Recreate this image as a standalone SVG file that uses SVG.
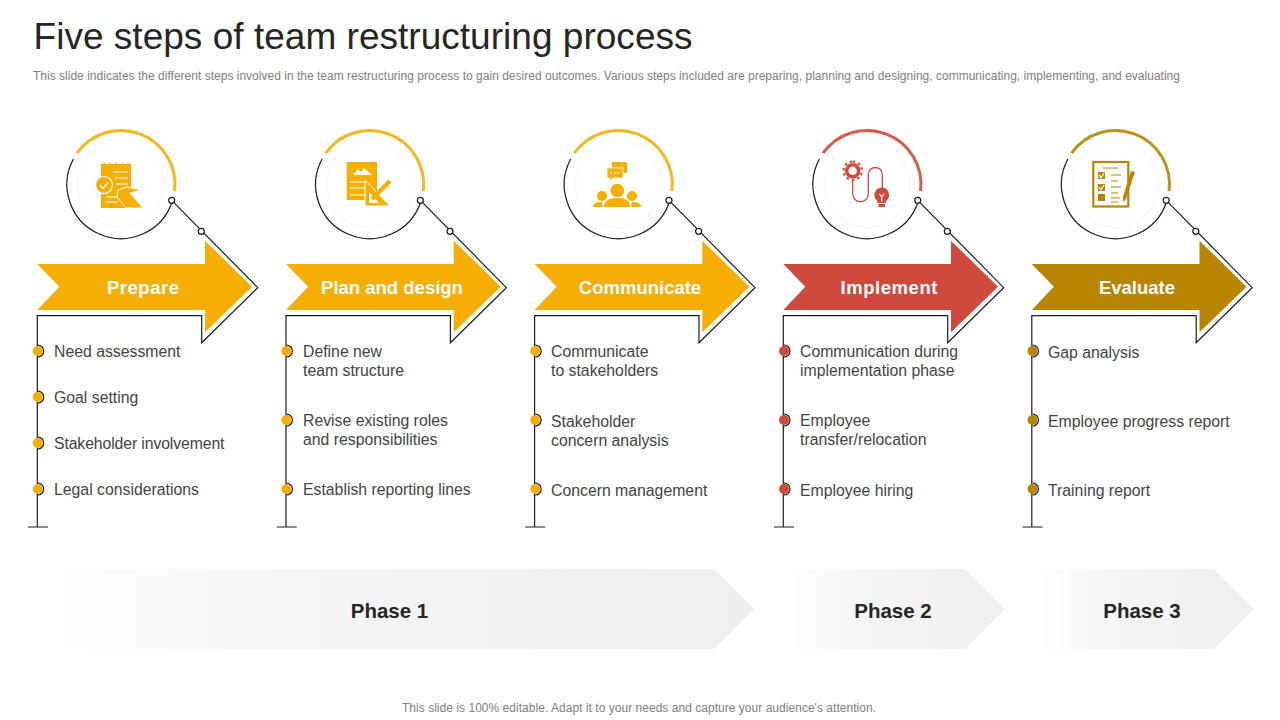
<svg xmlns="http://www.w3.org/2000/svg" width="1280" height="720" viewBox="0 0 1280 720">
<style>
text{font-family:"Liberation Sans",Arial,sans-serif}
.title{font-size:37px;fill:#262626}
.sub{font-size:12px;fill:#808080}
.foot{font-size:12px;fill:#808080}
.head{font-size:18.5px;font-weight:700;fill:#fff;text-anchor:middle}
.item{font-size:15.8px;fill:#444}
.phase{font-size:20.5px;font-weight:700;fill:#262626;text-anchor:middle}
.ln{fill:none;stroke:#1c1c1c;stroke-width:1.2}
.dot{fill:#fff;stroke:#1c1c1c;stroke-width:1.2}
.wl{fill:none;stroke:#fff;stroke-width:1.2}
.c1{color:#f6ae05}.c2{color:#cf4a3c}.c3{color:#b98500}
.fc{fill:currentColor}
.sc{fill:none;stroke:currentColor}
</style>
<defs>
<linearGradient id="g" x1="0" x2="1" y1="0" y2="0"><stop offset="0" stop-color="#fff"/><stop offset=".18" stop-color="#f8f8f8"/><stop offset=".5" stop-color="#f4f4f4"/><stop offset="1" stop-color="#eee"/></linearGradient>
<g id="outline">
<path class="ln" d="M73.400 159A54 54 0 1 0 172 202.200"/>
<path class="ln" d="M171.700 200.300L257.700 287.700L201.700 342.700V315.700H37.300V527M28 527H48"/>
<circle class="dot" cx="171.700" cy="200.300" r="3"/>
<circle class="dot" cx="201.300" cy="231.300" r="3"/>
</g>
<g id="ring">
<circle cx="121" cy="184.500" r="43" fill="none" stroke="#f6f6f6" stroke-width="1.200"/>
<path class="sc" stroke-width="3" stroke-opacity=".9" d="M77 153.200A54 54 0 0 1 174.600 191.100"/>
</g>
<path id="arrow" class="fc" d="M37.300 264H205V240.700L252 286.700L205 332.300V310H37.300L59.300 286.700Z"/>
<g id="b"><path d="M0-6A6 6 0 0 1 0 6" fill="none" stroke="#1c1c1c" stroke-width="1.200"/><circle cx="0" cy="0" r="5" class="fc"/></g>
</defs>

<text class="title" x="33.500" y="49" textLength="659">Five steps of team restructuring process</text>
<text class="sub" x="33" y="80" textLength="1147">This slide indicates the different steps involved in the team restructuring process to gain desired outcomes. Various steps included are preparing, planning and designing, communicating, implementing, and evaluating</text>

<g id="connectors">
<use href="#outline"/>
<use href="#outline" x="248.700"/>
<use href="#outline" x="497.300"/>
<use href="#outline" x="746"/>
<use href="#outline" x="994.500"/>
</g>

<g id="prepare" class="c1">
<use href="#ring"/>
<g>
<rect class="fc" x="101" y="164" width="30" height="44"/>
<path d="M104 162v4M110 162v4M116 162v4M122 162v4M128 162v4" stroke="#f6ae05" stroke-width="1"/>
<path class="wl" d="M113 172H128M115 178H128M116 184H128M106 197H120M106 202H118"/>
<circle class="fc" cx="104" cy="185" r="8.500" stroke="#fff" stroke-width="1.200"/>
<path class="wl" stroke-width="1.600" d="M100 185L103 188.500L108.500 182"/>
<path class="fc" d="M118 190L127 187L142 190L130 193L143 208H126L117 197Z" stroke="#fff" stroke-width="1"/>
</g>
<use href="#arrow"/>
<text class="head" x="143" y="293.500" textLength="72">Prepare</text>
<use href="#b" x="37.700" y="351"/><use href="#b" x="37.700" y="397"/><use href="#b" x="37.700" y="443"/><use href="#b" x="37.700" y="489"/>
<text class="item" x="54" y="357">Need assessment</text>
<text class="item" x="54" y="403">Goal setting</text>
<text class="item" x="54" y="449" textLength="170.500">Stakeholder involvement</text>
<text class="item" x="54" y="495">Legal considerations</text>
</g>

<g id="plan" class="c1">
<use href="#ring" x="248.700"/>
<g>
<path class="fc" d="M346.700 162H377V200H346.700Z"/>
<path fill="#fff" d="M353 175L358 169L361 172L364 168L372 175Z"/>
<path class="wl" d="M350 182H364M350 188H366M350 195H368"/>
<path class="fc" d="M365 180L390 206H365Z" stroke="#fff" stroke-width="1"/>
<path fill="#fff" d="M369 192L379 203H369Z"/>
<path d="M372 199L390 181" stroke="#f6ae05" stroke-width="4.500"/>
</g>
<use href="#arrow" x="248.700"/>
<text class="head" x="392" y="293.500">Plan and design</text>
<use href="#b" x="286.400" y="351"/><use href="#b" x="286.400" y="420"/><use href="#b" x="286.400" y="489"/>
<text class="item" x="303" y="357">Define new</text>
<text class="item" x="303" y="376">team structure</text>
<text class="item" x="303" y="426">Revise existing roles</text>
<text class="item" x="303" y="445">and responsibilities</text>
<text class="item" x="303" y="495">Establish reporting lines</text>
</g>

<g id="communicate" class="c1">
<use href="#ring" x="497.300"/>
<g>
<rect class="fc" x="612" y="162" width="15" height="11" rx="1"/>
<path class="fc" d="M607 168H623V178H613L610 181V178H607Z" stroke="#fff" stroke-width=".8"/>
<path d="M610.500 173H612M614 173H615.500M617.500 173H619" stroke="#fff" stroke-width="1.300"/>
<circle class="fc" cx="617.300" cy="190.500" r="6.800"/>
<circle class="fc" cx="602" cy="196" r="5"/>
<circle class="fc" cx="632" cy="196" r="5"/>
<path class="fc" d="M604 207C604 200 610 198 617.300 198C625 198 630 200 630 207Z"/>
<path class="fc" d="M593 207C593 203 597 202 602 202L603 207ZM641 207C641 203 637 202 632 202L631 207Z"/>
</g>
<use href="#arrow" x="497.300"/>
<text class="head" x="640" y="293.500">Communicate</text>
<use href="#b" x="535.200" y="351"/><use href="#b" x="535.200" y="420"/><use href="#b" x="535.200" y="489"/>
<text class="item" x="551" y="357">Communicate</text>
<text class="item" x="551" y="376">to stakeholders</text>
<text class="item" x="551" y="427">Stakeholder</text>
<text class="item" x="551" y="446">concern analysis</text>
<text class="item" x="551" y="496">Concern management</text>
</g>

<g id="implement" class="c2">
<use href="#ring" x="746"/>
<g>
<circle class="sc" cx="852.700" cy="170.700" r="6" stroke-width="3.500"/>
<path class="sc" stroke-width="2.200" stroke-dasharray="2.500 2.900" d="M852.700 161.500A9.200 9.200 0 1 1 852.690 161.500"/>
<path class="sc" stroke-width="1.300" d="M852.700 181V194A7.800 7.800 0 0 0 868.300 194V174.500A6.950 6.950 0 0 1 882.300 174.500V188"/>
<path class="fc" d="M881.700 187.500A7.500 7.500 0 0 1 886 201V203H877.500V201A7.500 7.500 0 0 1 881.700 187.500ZM878.500 204H885V207H878.500Z"/>
<path class="wl" d="M879.500 194L881.700 197V202M884 194L881.700 197"/>
</g>
<use href="#arrow" x="746"/>
<text class="head" x="889" y="293.500" textLength="97">Implement</text>
<use href="#b" x="784" y="351"/><use href="#b" x="784" y="420"/><use href="#b" x="784" y="489"/>
<text class="item" x="800" y="357">Communication during</text>
<text class="item" x="800" y="376">implementation phase</text>
<text class="item" x="800" y="426">Employee</text>
<text class="item" x="800" y="445">transfer/relocation</text>
<text class="item" x="800" y="496">Employee hiring</text>
</g>

<g id="evaluate" class="c3">
<use href="#ring" x="994.500"/>
<g>
<rect class="sc" x="1093.300" y="162" width="35" height="44.500" stroke-width="2.200"/>
<path class="sc" stroke-width="1.200" d="M1103 168H1118M1111 175H1121M1111 181H1118M1111 187H1121M1111 193H1118M1111 198H1120M1111 202H1118"/>
<rect class="fc" x="1098" y="172" width="7" height="7"/>
<rect class="fc" x="1098" y="184" width="7" height="7"/>
<rect class="fc" x="1098" y="194" width="7" height="7"/>
<path class="wl" d="M1099 175L1101 178L1104 173M1099 187L1101 190L1104 185"/>
<path class="fc" d="M1131 171L1135 172L1126 199L1123.500 202L1123 197Z"/>
</g>
<use href="#arrow" x="994.500"/>
<text class="head" x="1137" y="293.500">Evaluate</text>
<use href="#b" x="1032.500" y="351"/><use href="#b" x="1032.500" y="420"/><use href="#b" x="1032.500" y="489"/>
<text class="item" x="1048" y="358">Gap analysis</text>
<text class="item" x="1048" y="427">Employee progress report</text>
<text class="item" x="1048" y="496">Training report</text>
</g>

<g id="phase1"><path fill="url(#g)" d="M55 569H714L754 609L714 649H55Z"/><text class="phase" x="389.500" y="618">Phase 1</text></g>
<g id="phase2"><path fill="url(#g)" d="M790 569H965L1005 609L965 649H790Z"/><text class="phase" x="893" y="618">Phase 2</text></g>
<g id="phase3"><path fill="url(#g)" d="M1039 569H1214L1254 609L1214 649H1039Z"/><text class="phase" x="1142" y="618">Phase 3</text></g>

<text class="foot" x="402" y="711.500" textLength="474">This slide is 100% editable. Adapt it to your needs and capture your audience's attention.</text>
</svg>
